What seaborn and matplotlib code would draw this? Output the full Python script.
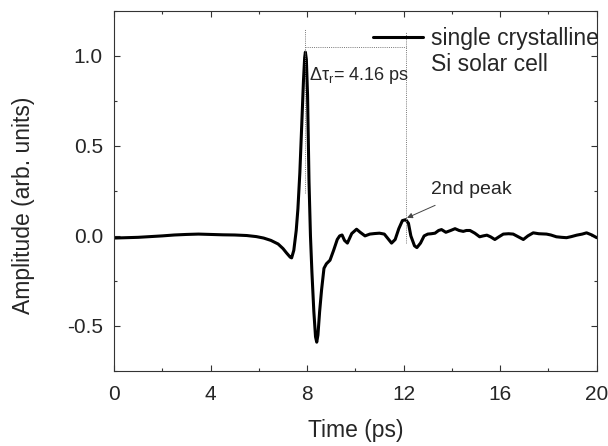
import matplotlib
matplotlib.use("Agg")
import matplotlib.pyplot as plt
from matplotlib.lines import Line2D
from matplotlib.ticker import MultipleLocator, FixedLocator, FixedFormatter
import seaborn as sns
import pandas as pd

# THz transient measured on the single crystalline Si solar cell
time_ps = [0.0, 0.5, 1.0, 1.5, 2.0, 2.5, 3.0, 3.5, 4.0, 4.5, 5.0, 5.5, 5.9,
           6.2, 6.5, 6.8, 7.0, 7.15, 7.3, 7.36, 7.45, 7.55, 7.62, 7.7, 7.78,
           7.85, 7.9, 7.93, 7.97, 8.02, 8.08, 8.14, 8.2, 8.28, 8.35, 8.40,
           8.45, 8.52, 8.6, 8.7, 8.8, 8.95, 9.1, 9.25, 9.35, 9.45, 9.55, 9.67,
           9.85, 10.05, 10.2, 10.4, 10.6, 10.8, 11.0, 11.2, 11.35, 11.5, 11.65,
           11.8, 11.95, 12.09, 12.2, 12.3, 12.45, 12.55, 12.7, 12.85, 13.0,
           13.15, 13.3, 13.45, 13.57, 13.75, 13.95, 14.13, 14.3, 14.47, 14.6,
           14.75, 14.95, 15.15, 15.3, 15.45, 15.6, 15.78, 15.95, 16.13, 16.35,
           16.54, 16.75, 16.96, 17.15, 17.37, 17.6, 17.92, 18.1, 18.33, 18.55,
           18.75, 18.95, 19.17, 19.4, 19.58, 19.8, 20.0]
amplitude = [-0.012, -0.01, -0.008, -0.004, 0.0, 0.005, 0.008, 0.01, 0.008,
             0.006, 0.005, 0.002, -0.004, -0.012, -0.025, -0.045, -0.07,
             -0.095, -0.118, -0.122, -0.08, 0.03, 0.15, 0.35, 0.62, 0.86,
             0.99, 1.02, 0.98, 0.78, 0.3, 0.0, -0.2, -0.42, -0.56, -0.59,
             -0.55, -0.42, -0.3, -0.18, -0.155, -0.135, -0.08, -0.02, 0.0,
             0.005, -0.025, -0.04, 0.013, 0.037, 0.02, 0.0, 0.01, 0.013, 0.015,
             0.01, -0.015, -0.04, -0.02, 0.04, 0.085, 0.09, 0.07, 0.0, -0.055,
             -0.065, -0.04, 0.0, 0.01, 0.012, 0.015, 0.03, 0.035, 0.02, 0.03,
             0.04, 0.03, 0.025, 0.03, 0.03, 0.015, -0.005, 0.0, 0.004, -0.005,
             -0.02, -0.005, 0.01, 0.012, 0.01, -0.005, -0.02, 0.0, 0.017,
             0.012, 0.01, 0.005, -0.005, -0.008, -0.01, -0.004, 0.004, 0.01,
             0.017, 0.005, -0.01]

main_peak = (7.93, 1.02)
second_peak = (12.09, 0.09)
delay_label = r"$\mathregular{\Delta\tau_r}$= 4.16 ps"
series_label = ["single crystalline", "Si solar cell"]

x_ticks = [0, 4, 8, 12, 16, 20]
x_tick_labels = ["0", "4", "8", "12", "16", "20"]
y_ticks = [-0.5, 0.0, 0.5, 1.0]
y_tick_labels = ["-0.5", "0.0", "0.5", "1.0"]

sns.set_style("ticks")
plt.rcParams["font.family"] = ["Liberation Sans", "DejaVu Sans"]
plt.rcParams["mathtext.fontset"] = "custom"
plt.rcParams["mathtext.rm"] = "Liberation Sans"

df = pd.DataFrame({"Time (ps)": time_ps, "Amplitude": amplitude})

W, H = 608, 446
fig = plt.figure(figsize=(W / 100, H / 100), dpi=100)
ax = fig.add_axes([114 / W, (H - 371) / H, (596.7 - 114) / W, (371 - 10.7) / H])

sns.lineplot(data=df, x="Time (ps)", y="Amplitude", ax=ax, color="black",
             linewidth=2.2, sort=False, estimator=None, legend=False)

# guide lines marking the delay between the two peaks
guide = dict(color="#777777", linewidth=0.7, linestyle=(0, (1, 1.2)))
ax.plot([main_peak[0], main_peak[0]], [0.24, 1.15], **guide)
ax.plot([second_peak[0], second_peak[0]], [-0.04, 1.13], **guide)
ax.plot([main_peak[0], second_peak[0]], [1.05, 1.05], **guide)

ax.text(8.1, 0.89, delay_label, fontsize=13, va="center", ha="left")
ax.annotate("2nd peak", xy=(second_peak[0] + 0.05, second_peak[1] + 0.01),
            xytext=(13.15, 0.26), fontsize=14, va="center", ha="left",
            arrowprops=dict(arrowstyle="-|>", color="#444444", lw=0.7,
                            mutation_scale=8, shrinkA=8, shrinkB=0))

ax.set_xlim(0, 20)
ax.set_ylim(-0.75, 1.25)
ax.xaxis.set_major_locator(FixedLocator(x_ticks))
ax.xaxis.set_major_formatter(FixedFormatter(x_tick_labels))
ax.yaxis.set_major_locator(FixedLocator(y_ticks))
ax.yaxis.set_major_formatter(FixedFormatter(y_tick_labels))
ax.xaxis.set_minor_locator(MultipleLocator(2))
ax.yaxis.set_minor_locator(MultipleLocator(0.25))
ax.tick_params(which="both", direction="in", top=True, right=True,
               color="#333333", width=0.8, labelsize=15)
ax.tick_params(axis="x", pad=10)
ax.tick_params(axis="y", pad=8)
ax.tick_params(which="major", length=4)
ax.tick_params(which="minor", length=2.5)
for s in ax.spines.values():
    s.set_color("#333333")
    s.set_linewidth(0.8)

ax.set_xlabel("Time (ps)", fontsize=16.5, labelpad=11)
ax.set_ylabel("Amplitude (arb. units)", fontsize=16.5)
ax.yaxis.set_label_coords(-0.164, 0.461)

handles = [Line2D([], [], color="black", linewidth=2.2),
           Line2D([], [], color="none")]
ax.legend(handles, series_label, loc="upper left",
          bbox_to_anchor=(0.5366, 0.956), frameon=False, fontsize=16.5,
          handlelength=2.17, handletextpad=0.35, borderpad=0,
          borderaxespad=0, labelspacing=0.15)

fig.savefig("out.png", dpi=100)
